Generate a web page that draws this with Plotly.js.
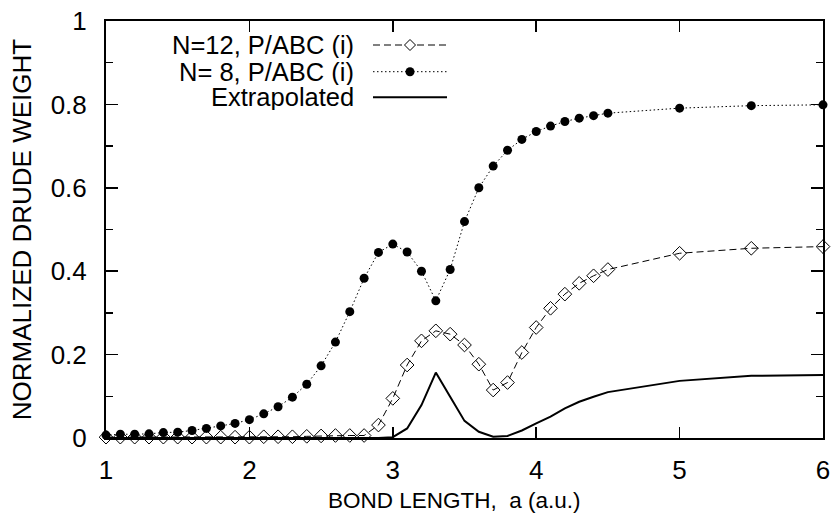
<!DOCTYPE html>
<html>
<head>
<meta charset="utf-8">
<script src="https://cdn.plot.ly/plotly-3.0.1.min.js"></script>
<style>
  html, body { margin: 0; padding: 0; background: #fff; }
  #chart { width: 832px; height: 516px; }
</style>
</head>
<body>
<div id="chart"></div>
<script>
// Bond length grid (a.u.)
const bondLength = [
  1.0, 1.1, 1.2, 1.3, 1.4, 1.5, 1.6, 1.7, 1.8, 1.9,
  2.0, 2.1, 2.2, 2.3, 2.4, 2.5, 2.6, 2.7, 2.8, 2.9,
  3.0, 3.1, 3.2, 3.3, 3.4, 3.5, 3.6, 3.7, 3.8, 3.9,
  4.0, 4.1, 4.2, 4.3, 4.4, 4.5, 5.0, 5.5, 6.0
];

// N=12 ring, P/ABC (i)
const drude12 = [
  0.002, 0.002, 0.002, 0.002, 0.002, 0.002, 0.002, 0.002, 0.002, 0.002,
  0.002, 0.003, 0.003, 0.003, 0.004, 0.005, 0.006, 0.006, 0.006, 0.031,
  0.095, 0.175, 0.233, 0.257, 0.249, 0.223, 0.177, 0.115, 0.133, 0.205,
  0.265, 0.311, 0.345, 0.371, 0.389, 0.404, 0.443, 0.455, 0.459
];

// N=8 ring, P/ABC (i)
const drude8 = [
  0.007, 0.009, 0.009, 0.010, 0.013, 0.014, 0.018, 0.023, 0.029, 0.035,
  0.044, 0.058, 0.075, 0.098, 0.129, 0.173, 0.230, 0.303, 0.383, 0.445,
  0.465, 0.446, 0.400, 0.329, 0.404, 0.519, 0.600, 0.652, 0.690, 0.716,
  0.735, 0.748, 0.759, 0.767, 0.773, 0.779, 0.791, 0.797, 0.799
];

// Extrapolated (N -> infinity)
const drudeExtrap = [
  0.000, 0.000, 0.000, 0.000, 0.000, 0.000, 0.000, 0.000, 0.000, 0.000,
  0.000, 0.000, 0.000, 0.000, 0.000, 0.000, 0.000, 0.000, 0.000, 0.000,
  0.002, 0.023, 0.079, 0.157, 0.099, 0.041, 0.015, 0.003, 0.005, 0.018,
  0.035, 0.051, 0.071, 0.087, 0.099, 0.110, 0.137, 0.149, 0.151
];

const seriesNames = ['N=12, P/ABC (i)', 'N= 8, P/ABC (i)', 'Extrapolated'];
const xTickVals = [1, 2, 3, 4, 5, 6];
const yTickVals = [0, 0.2, 0.4, 0.6, 0.8, 1];
const yTickText = ['0', '0.2', '0.4', '0.6', '0.8', '1'];
const xTitle = 'BOND LENGTH,  a (a.u.)';
const yTitle = 'NORMALIZED DRUDE WEIGHT';

const FONT = 'Liberation Sans, Arial, Helvetica, sans-serif';

const traces = [
  {
    x: bondLength, y: drude12, name: seriesNames[0],
    mode: 'lines+markers', type: 'scatter', cliponaxis: false,
    line: { color: '#000', width: 1, dash: '7px,4px' },
    marker: { symbol: 'diamond-open', size: 10.5, color: '#000', line: { width: 1, color: '#000' } }
  },
  {
    x: bondLength, y: drude8, name: seriesNames[1],
    mode: 'lines+markers', type: 'scatter', cliponaxis: false,
    line: { color: '#000', width: 1, dash: '1.5px,2.5px' },
    marker: { symbol: 'circle', size: 9, color: '#000' }
  },
  {
    x: bondLength, y: drudeExtrap, name: seriesNames[2],
    mode: 'lines', type: 'scatter', cliponaxis: false,
    line: { color: '#000', width: 2 }
  }
];

// Key placed inside the frame, text on the left and sample on the right
const plotL = 106, plotR = 823, plotT = 21, plotB = 438;
const px = v => (v - plotL) / (plotR - plotL);
const py = v => (plotB - v) / (plotB - plotT);
const keyRows = [45, 71.7, 97.3];
const keyTextRight = 355, keyLine0 = 373, keyLine1 = 447, keyMark = 410;

const shapes = [];
const annotations = [];
keyRows.forEach((row, i) => {
  annotations.push({
    xref: 'paper', yref: 'paper', x: px(keyTextRight), y: py(row),
    xanchor: 'right', yanchor: 'middle', valign: 'middle', showarrow: false,
    height: 26, borderpad: 0,
    text: seriesNames[i], font: { family: FONT, size: 25.5, color: '#000' }
  });
  const dash = i === 0 ? '7px,4px' : (i === 1 ? '1.5px,2.5px' : 'solid');
  shapes.push({
    type: 'line', xref: 'paper', yref: 'paper',
    x0: px(keyLine0), x1: px(keyLine1), y0: py(row), y1: py(row),
    line: { color: '#000', width: i === 2 ? 2 : 1, dash: dash }
  });
});
// key markers
shapes.push({
  type: 'path', xref: 'paper', yref: 'paper',
  xsizemode: 'pixel', ysizemode: 'pixel',
  xanchor: px(keyMark), yanchor: py(keyRows[0]),
  path: 'M0,5.5 L5.5,0 L0,-5.5 L-5.5,0 Z',
  fillcolor: '#fff', line: { color: '#000', width: 1 }
});
shapes.push({
  type: 'circle', xref: 'paper', yref: 'paper',
  xsizemode: 'pixel', ysizemode: 'pixel',
  xanchor: px(keyMark), yanchor: py(keyRows[1]),
  x0: -4.5, x1: 4.5, y0: -4.5, y1: 4.5,
  fillcolor: '#000', line: { color: '#000', width: 0 }
});

// x-axis title, centred a little left of the frame centre
annotations.push({
  xref: 'paper', yref: 'paper', x: px(454), y: py(500),
  xanchor: 'center', yanchor: 'middle', showarrow: false,
  text: xTitle, font: { family: FONT, size: 22.5, color: '#000' }
});

const layout = {
  width: 832, height: 516,
  margin: { l: plotL, r: 832 - plotR, t: plotT, b: 516 - plotB, pad: 0 },
  paper_bgcolor: '#fff', plot_bgcolor: '#fff',
  showlegend: false,
  font: { family: FONT, size: 26, color: '#000' },
  xaxis: {
    range: [1, 6], tickvals: xTickVals, ticktext: xTickVals.map(String),
    ticks: 'inside', ticklen: 11, tickwidth: 1.5, tickcolor: '#000',
    showline: true, linecolor: '#000', linewidth: 2, mirror: 'ticks',
    showgrid: false, zeroline: false, ticklabelstandoff: 8,
    tickfont: { family: FONT, size: 26, color: '#000' },
    automargin: false
  },
  yaxis: {
    range: [0, 1], tickvals: yTickVals, ticktext: yTickText,
    ticks: 'inside', ticklen: 12, tickwidth: 1.5, tickcolor: '#000',
    minor: { dtick: 0.1, ticks: 'inside', ticklen: 7, tickwidth: 1.5, tickcolor: '#000', showgrid: false },
    showline: true, linecolor: '#000', linewidth: 2, mirror: 'ticks',
    showgrid: false, zeroline: false, ticklabelstandoff: 12,
    tickfont: { family: FONT, size: 26, color: '#000' },
    title: { text: yTitle, font: { family: FONT, size: 26, color: '#000' }, standoff: 12 },
    automargin: false
  },
  shapes: shapes,
  annotations: annotations
};

Plotly.newPlot('chart', traces, layout, { staticPlot: true, displayModeBar: false });
</script>
</body>
</html>
